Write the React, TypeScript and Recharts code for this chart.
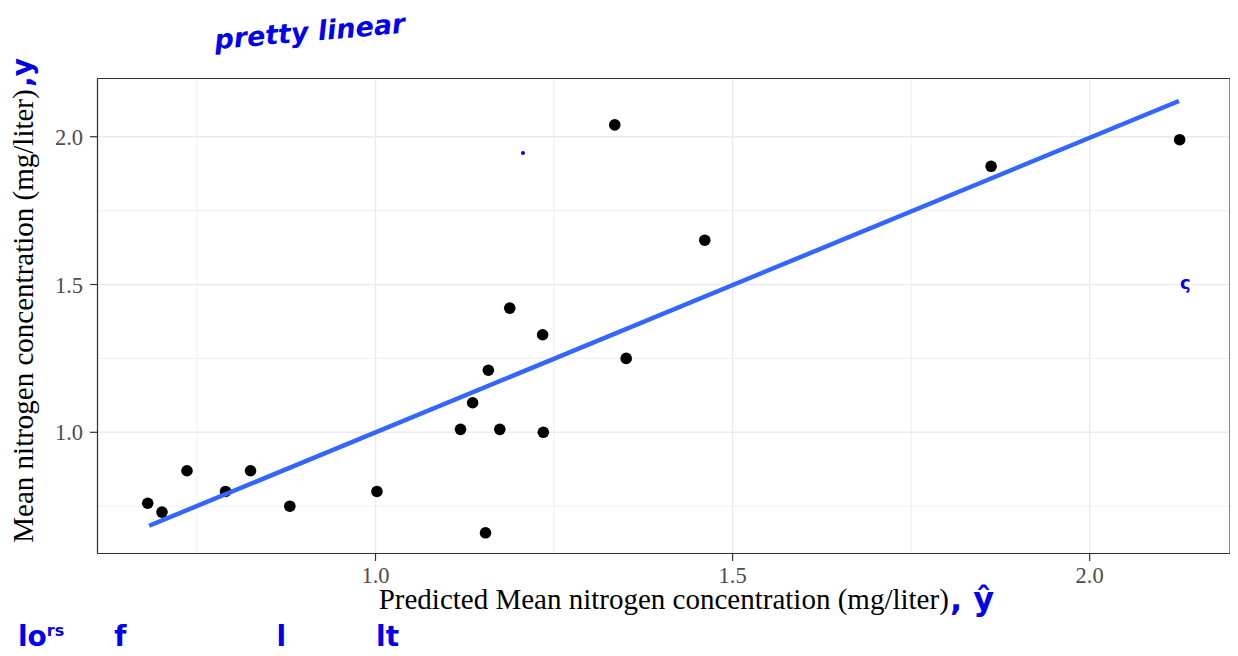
import React from "react";
import {
  ScatterChart,
  Scatter,
  XAxis,
  YAxis,
  CartesianGrid,
  ReferenceArea,
} from "recharts";

// Observed vs predicted mean nitrogen concentration (mg/liter)
const predicted = [
  0.681, 0.701, 0.736, 0.79, 0.825, 0.88, 1.002, 1.119, 1.136, 1.154,
  1.158, 1.174, 1.188, 1.234, 1.235, 1.335, 1.351, 1.461, 1.862, 2.126,
];
const observed = [
  0.76, 0.73, 0.87, 0.8, 0.87, 0.75, 0.8, 1.01, 1.1, 0.66,
  1.21, 1.01, 1.42, 1.33, 1.0, 2.04, 1.25, 1.65, 1.9, 1.99,
];

// Fitted (lm) line endpoints
const fitX = [0.683, 2.125];
const fitY = [0.684, 2.121];

const xTicks = [1.0, 1.5, 2.0];
const yTicks = [1.0, 1.5, 2.0];
const xMinor = [0.75, 1.25, 1.75];
const yMinor = [0.75, 1.25, 1.75];

const xDomain: [number, number] = [0.6107, 2.1965];
const yDomain: [number, number] = [0.59, 2.197];

const xTitle = "Predicted Mean nitrogen concentration (mg/liter)";
const yTitle = "Mean nitrogen concentration (mg/liter)";

const points = predicted.map((x, i) => ({ x, y: observed[i] }));
const fit = fitX.map((x, i) => ({ x, y: fitY[i] }));

const FONT = "'Liberation Serif', 'Times New Roman', serif";
const INK = "#0000EE";

export default function App() {
  return (
    <div style={{ position: "relative", width: 1230, height: 648 }}>
      <ScatterChart
        width={1230}
        height={648}
        margin={{ top: 70.5, right: 8, left: 0, bottom: 0 }}
      >
        <CartesianGrid
          stroke="#EBEBEB"
          strokeWidth={0.8}
          horizontalValues={yMinor}
          verticalValues={xMinor}
        />
        <CartesianGrid stroke="#EBEBEB" strokeWidth={1.4} />
        <XAxis
          type="number"
          dataKey="x"
          domain={xDomain}
          allowDataOverflow
          ticks={xTicks}
          tickFormatter={(v: number) => v.toFixed(1)}
          height={102.5}
          tickSize={7.5}
          tickMargin={6}
          stroke="#333333"
          axisLine={{ stroke: "#333333", strokeWidth: 1.1 }}
          tickLine={{ stroke: "#333333", strokeWidth: 1.2 }}
          tick={{ fill: "#4D4D4D", fontSize: 22.5, fontFamily: FONT }}
          label={(props: any) => {
            const vb = props.viewBox || {};
            return (
              <text
                x={vb.x + vb.width / 2}
                y={601}
                textAnchor="middle"
                fontFamily={FONT}
                fontSize={29}
                fill="#000000"
              >
                {xTitle}
              </text>
            );
          }}
        />
        <YAxis
          type="number"
          dataKey="y"
          domain={yDomain}
          allowDataOverflow
          ticks={yTicks}
          tickFormatter={(v: number) => v.toFixed(1)}
          width={89.5}
          tickSize={7.5}
          tickMargin={7}
          stroke="#333333"
          axisLine={{ stroke: "#333333", strokeWidth: 1.1 }}
          tickLine={{ stroke: "#333333", strokeWidth: 1.2 }}
          tick={{ fill: "#4D4D4D", fontSize: 22.5, fontFamily: FONT }}
          label={(props: any) => {
            const vb = props.viewBox || {};
            const cy = vb.y + vb.height / 2;
            return (
              <text
                x={25}
                y={cy}
                transform={`rotate(-90 25 ${cy})`}
                textAnchor="middle"
                fontFamily={FONT}
                fontSize={29}
                fill="#000000"
              >
                {yTitle}
              </text>
            );
          }}
        />
        <Scatter
          data={points}
          isAnimationActive={false}
          shape={(p: any) => <circle cx={p.cx} cy={p.cy} r={5.8} fill="#000000" />}
        />
        <Scatter
          data={fit}
          isAnimationActive={false}
          line={{ stroke: "#3366FF", strokeWidth: 4.5 }}
          shape={() => <g />}
        />
        <ReferenceArea
          x1={xDomain[0]}
          x2={xDomain[1]}
          y1={yDomain[0]}
          y2={yDomain[1]}
          fill="none"
          fillOpacity={0}
          stroke="#333333"
          strokeWidth={1.1}
          ifOverflow="visible"
        />
      </ScatterChart>

      {/* handwritten annotations */}
      <div
        style={{
          position: "absolute",
          left: 206,
          top: 8,
          color: INK,
          fontFamily: "'DejaVu Sans', sans-serif",
          fontWeight: "bold",
          fontStyle: "italic",
          fontSize: 27,
          transform: "rotate(-5deg)",
          whiteSpace: "nowrap",
        }}
      >
        pretty linear
      </div>
      <div
        style={{
          position: "absolute",
          left: 0,
          top: 48,
          color: INK,
          fontFamily: "'DejaVu Sans', sans-serif",
          fontWeight: "bold",
          fontSize: 28,
          transform: "rotate(-90deg)",
          transformOrigin: "center",
          whiteSpace: "nowrap",
        }}
      >
        ,y
      </div>
      <div
        style={{
          position: "absolute",
          left: 942,
          top: 572,
          color: INK,
          fontFamily: "'DejaVu Sans', sans-serif",
          fontWeight: "bold",
          fontSize: 32,
          whiteSpace: "nowrap",
        }}
      >
        , ŷ
      </div>
      <div
        style={{
          position: "absolute",
          left: 1172,
          top: 264,
          color: INK,
          fontFamily: "'DejaVu Sans', sans-serif",
          fontWeight: "bold",
          fontSize: 18,
        }}
      >
        ς
      </div>
      <div
        style={{
          position: "absolute",
          left: 513,
          top: 143,
          width: 4,
          height: 4,
          borderRadius: 2,
          background: INK,
        }}
      />
      <div
        style={{
          position: "absolute",
          left: 10,
          top: 612,
          color: INK,
          fontFamily: "'DejaVu Sans', sans-serif",
          fontWeight: "bold",
          fontSize: 28,
          whiteSpace: "nowrap",
          height: 36,
          overflow: "hidden",
        }}
      >
        lo<sup style={{ fontSize: 16 }}>rs</sup>
        <span style={{ marginLeft: 50 }}>f</span>
        <span style={{ marginLeft: 150 }}>l</span>
        <span style={{ marginLeft: 90 }}>lt</span>
      </div>
    </div>
  );
}
